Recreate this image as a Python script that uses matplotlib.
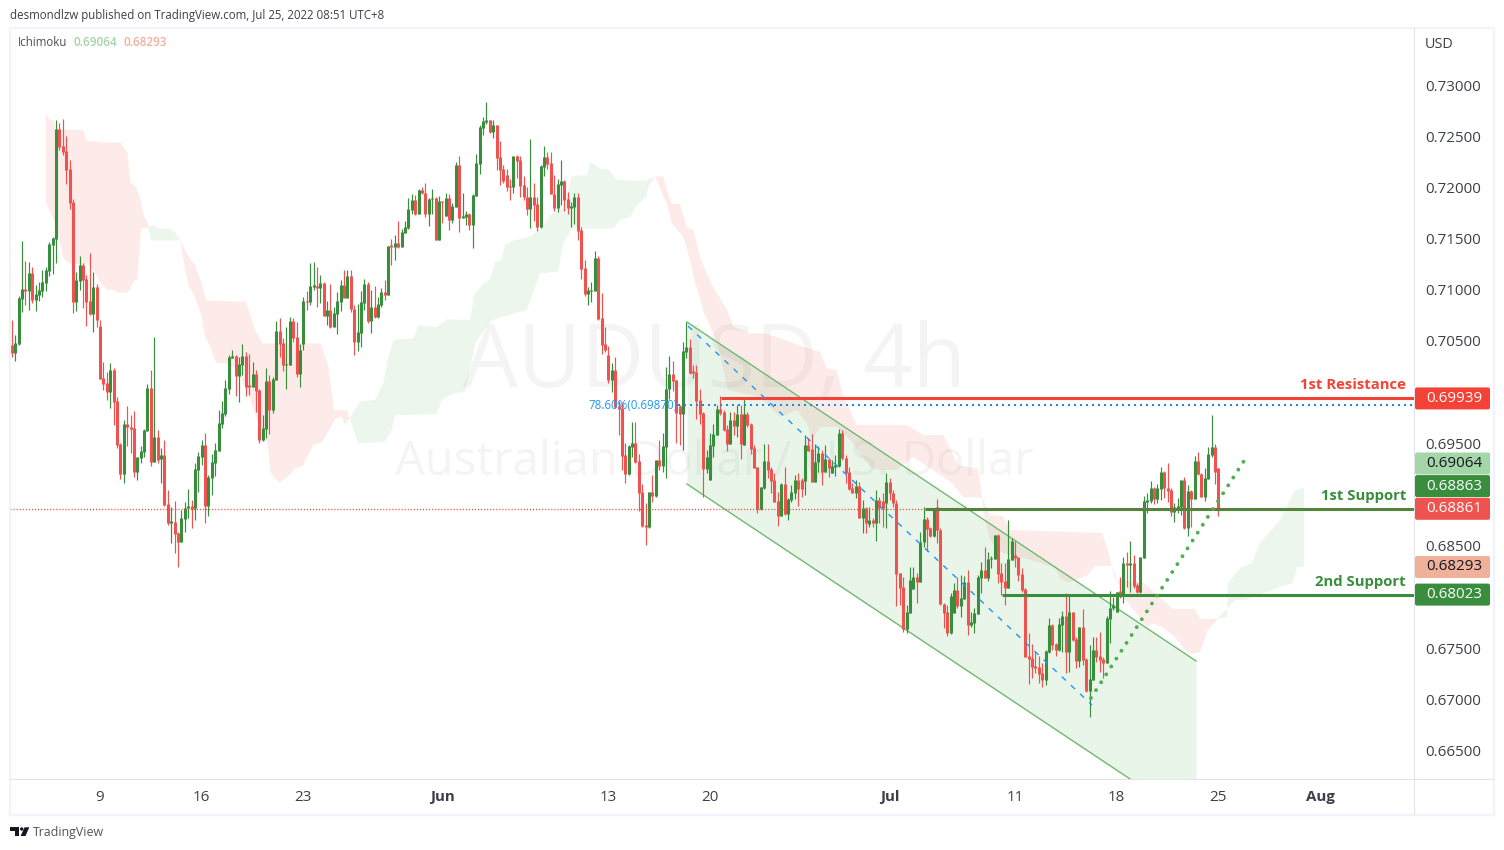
import numpy as np
import matplotlib
matplotlib.use("Agg")
import matplotlib.pyplot as plt
from matplotlib.patches import Rectangle, Polygon, Circle, FancyBboxPatch
from matplotlib.transforms import IdentityTransform

plt.rcParams['font.family'] = ['Open Sans', 'DejaVu Sans']

# ---- candle data, in 1e-5 price units, first bar index = -26 (bar 0 = 9 May) ----
highs = [
70705,70559,70939,71476,71281,71271,71226,71047,71079,71193,
71226,71470,71512,72658,72626,72668,72502,72267,71883,71177,
71330,71258,71144,71356,71177,71057,70705,70295,70200,70282,
70236,69950,69501,69729,69865,69777,69816,69371,69475,69637,
70080,70217,70539,69631,69452,69533,69045,68882,68941,68638,
68850,68925,69051,68947,69305,69413,69533,69598,69191,69397,
69501,69826,69914,70119,70363,70412,70363,70347,70471,70396,
70373,70298,70217,70028,69777,70233,70168,70145,70698,70721,
70526,70633,70731,70721,70689,70471,70926,70988,71265,71271,
71226,71144,71079,70894,71057,70835,70982,71096,71193,71193,
71193,70851,70861,
70988,71102,71079,70998,71037,70933,71014,71096,71431,71493,
71535,71672,71590,71675,71893,71935,71926,71981,72007,72040,
71893,71984,71909,71916,71867,71948,71935,71844,72251,72307,
71948,71773,71747,71935,72326,72609,72691,72834,72658,72658,
72612,72453,72219,72176,72079,72310,72316,72307,72111,72007,
72473,72040,71903,72219,72404,72349,72346,72121,72079,72267,
72072,71958,71861,71942,71942,71616,71291,71031,71079,71376,
71333,70965,70633,70451,70282,70347,69917,69908,69501,69484,
69709,69706,69397,69100,68915,69025,69191,69338,69533,69598,
70249,70354,70308,70119,69875,
70493,70689,70520,70266,70266,70032,69810,69436,69599,69690,
69875,69963,69826,69680,69810,69810,69875,69875,69950,69810,
69696,69485,69273,69078,69491,69491,69273,69208,69029,69117,
69267,68964,69094,69192,69208,69159,69582,69550,69592,69491,
69475,69436,69485,69355,69338,69387,69641,69631,69387,69273,
69110,69143,69127,68948,68883,68883,68769,69045,68980,69013,
69208,69159,69045,68948,68232,68199,67922,68297,68297,68232,
68638,68883,68785,68687,68866,68957,68671,67939,67922,68036,
68140,68199,68215,68209,68264,67857,67890,68215,
68339,68485,68443,68401,68606,68612,68329,68329,68752,68573,
68547,68394,68280,68085,67646,67541,67466,67424,67353,67483,
67792,67737,67548,67792,67864,68036,68010,67857,67613,67711,
67880,67401,67532,67606,67606,67655,67418,67815,68062,68004,
68052,68199,68388,68440,68550,68410,68134,68394,68987,69013,
69133,69078,69101,69267,69234,69306,69061,68915,68964,69143,
69169,69094,69045,69377,69419,69208,69257,69468,69778,69494,
69257]
body_tops = [
70461,70477,70917,71004,71004,71167,71167,70959,70998,71076,
71193,71447,71506,72570,72570,72404,72355,72180,71857,71096,
71242,71242,71105,70894,71031,71031,70646,70139,70093,70217,
70217,69914,69494,69689,69689,69663,69650,69371,69426,69631,
70041,70041,69562,69562,69387,69387,68905,68733,68733,68628,
68768,68866,68889,68889,69250,69377,69484,69484,69175,69315,
69436,69696,69794,70041,70347,70353,70357,70275,70353,70357,
70060,70178,70178,70021,69647,70109,70109,70129,70598,70598,
70477,70275,70695,70695,70536,70412,70891,70891,71037,71037,
71037,71063,71063,70803,70803,70770,70891,71047,71047,71135,
71135,70816,70588,
70881,71057,71057,70829,70829,70861,70982,70978,71428,71437,
71454,71454,71561,71610,71786,71877,71877,71975,71975,71942,
71890,71896,71896,71867,71867,71896,71896,71818,72219,72219,
71721,71737,71740,71922,72235,72586,72645,72652,72655,72609,
72609,72293,72176,72121,72014,72307,72307,72267,72020,71909,
71906,71906,71835,72209,72297,72297,72238,71939,72033,72062,
72062,71883,71815,71903,71906,71584,71213,70995,70995,71310,
71310,70721,70471,70363,70217,70217,69865,69846,69387,69475,
69501,69501,69328,69025,68703,69022,69025,69338,69338,69471,
70028,70175,70175,70119,69865,
70402,70442,70442,70198,70198,69924,69800,69371,69485,69592,
69836,69836,69810,69641,69726,69726,69787,69787,69787,69787,
69690,69455,69270,69075,69328,69328,69250,69143,68938,69104,
69104,68954,69026,69143,69143,69143,69485,69485,69446,69315,
69403,69403,69348,69348,69280,69289,69599,69599,69361,69224,
69068,69084,69084,68866,68866,68752,68752,68948,68948,68941,
69123,69123,69019,68915,68232,68095,67854,68166,68199,68199,
68534,68762,68762,68674,68866,68876,68655,67932,67857,68010,
68069,68069,67991,68147,68150,67756,67847,68199,
68264,68264,68371,68381,68606,68606,68235,68157,68371,68550,
68410,68388,68225,68078,67424,67408,67326,67320,67255,67473,
67727,67727,67541,67737,67815,67815,67854,67854,67590,67704,
67704,67392,67196,67480,67483,67424,67392,67795,67890,67922,
68052,68059,68332,68332,68332,68332,68117,68391,68938,68947,
69061,69068,69061,69221,69221,69065,69045,68876,68889,69143,
69143,69035,69035,69328,69328,69201,69159,69397,69465,69465,
69257]
body_bottoms = [
70386,70386,70471,70913,70991,70991,70900,70900,70949,70991,
71070,71187,71437,71499,72398,72346,72170,71851,70884,70884,
71089,71096,70884,70764,70764,70705,70132,70080,70002,70002,
69908,69484,69201,69201,69657,69644,69224,69224,69361,69419,
69624,69322,69322,69338,69344,68899,68726,68726,68615,68541,
68541,68765,68866,68863,68866,69240,69371,68889,68889,69165,
69312,69429,69689,69787,70031,70337,70158,70158,70266,70054,
70054,70054,70015,69533,69533,69641,69826,69826,70119,70471,
70266,70266,70262,70526,70178,70178,70471,70881,70881,71031,
71021,71018,70744,70744,70640,70640,70767,70881,70920,70920,
70809,70490,70490,
70581,70868,70699,70699,70738,70738,70851,70952,70952,71421,
71421,71418,71421,71558,71603,71779,71740,71740,71942,71740,
71740,71883,71486,71486,71860,71721,71682,71682,71812,71701,
71701,71711,71636,71636,71916,72228,72583,72642,72541,72541,
72287,72170,72059,72004,72004,72004,72261,72014,71906,71786,
71786,71828,71610,71610,72202,72228,71935,71802,71799,72023,
71877,71802,71802,71808,71577,71206,70959,70959,70988,70988,
70712,70464,70412,70119,70119,69859,69839,69377,69201,69201,
69468,69318,69019,68693,68687,68687,68986,68986,69279,69279,
69468,70028,70109,69794,69787,
69787,70396,70191,70191,69914,69787,69254,69254,69143,69478,
69582,69794,69631,69491,69491,69674,69674,69491,69485,69680,
69449,69263,68860,68860,69065,69244,69130,68931,68791,68791,
68811,68811,68948,69019,69055,69055,69133,69426,69124,69124,
69315,69221,69221,69263,69211,69273,69280,69361,69208,69058,
69019,69013,68772,68772,68720,68713,68720,68720,68870,68866,
68922,69013,68915,68225,68092,67685,67685,67847,68082,68150,
68150,68534,68668,68599,68599,68655,67929,67847,67646,67646,
67847,67913,67913,67984,67727,67727,67743,67834,
68186,68186,68186,68368,68371,68228,68147,68088,68088,68362,
68384,68215,68069,67418,67392,67320,67310,67248,67190,67190,
67466,67532,67483,67483,67727,67466,67466,67580,67375,67375,
67385,67082,67082,67190,67411,67385,67352,67359,67789,67890,
67857,68033,68033,68316,68316,68108,68049,68049,68384,68931,
68941,68960,68954,69055,69061,69039,68834,68834,68873,68882,
68674,68674,68961,68961,69201,68980,68980,69156,69387,69224,
68861]
lows = [
70347,70308,70461,70786,70851,70803,70868,70796,70894,70933,
70991,71135,71154,71258,72365,72316,72033,71792,70777,70796,
70998,70819,70646,70754,70591,70640,70132,70022,69924,69849,
69680,69458,69152,69117,69475,69403,69175,69143,69312,69371,
69618,69283,69322,69312,69117,68892,68703,68524,68433,68296,
68541,68638,68768,68677,68752,69029,69289,68726,68791,68996,
69182,69429,69647,69768,69982,70337,69963,69908,70168,69963,
69973,70054,69810,69507,69527,69550,69592,69794,70119,70347,
70210,70034,70262,70493,70152,70054,70412,70803,70851,70998,
70835,70868,70744,70656,70624,70633,70568,70796,70917,70917,
70786,70363,70406,
70445,70803,70672,70581,70721,70725,70835,70900,70952,71242,
71291,71411,71421,71551,71597,71740,71727,71740,71932,71708,
71626,71740,71486,71486,71655,71721,71584,71649,71812,71568,
71698,71633,71584,71408,71916,72131,72512,72619,72528,72486,
72170,72023,72046,71968,71877,71948,72088,71909,71877,71730,
71600,71675,71577,71600,72111,72180,71935,71769,71760,71828,
71773,71740,71616,71642,71486,71102,70939,70851,70881,70988,
70705,70373,70396,70093,70005,69842,69582,69240,69117,69191,
69371,69305,68837,68687,68511,68674,68931,68980,69240,69224,
69159,69930,70012,69501,69484,
69435,70331,70178,70136,69735,69690,68980,69208,69143,69371,
69582,69778,69625,69426,69491,69579,69560,69348,69485,69664,
69397,69257,68824,68850,69055,69159,69013,68925,68694,68791,
68804,68752,68931,68954,68889,68980,68996,69426,69124,69124,
69224,69094,69218,69176,69208,69182,69273,69338,69117,69045,
69013,68970,68769,68629,68629,68687,68687,68551,68720,68687,
68671,68948,68883,67916,67922,67662,67646,67847,68075,67945,
68150,68492,68450,68590,68590,68525,67926,67694,67620,67639,
67841,67890,67808,67978,67629,67711,67652,67834,
68043,68186,68160,68280,68368,68140,68020,67925,68088,68362,
68297,68160,68052,67418,67151,67206,67255,67157,67118,67141,
67450,67483,67424,67476,67466,67261,67271,67574,67310,67320,
67336,67076,66825,67190,67369,67271,67206,67352,67554,67873,
67851,67987,67945,68101,68052,68085,68036,68043,68378,68824,
68915,68908,68915,68947,68964,68931,68791,68736,68817,68801,
68668,68599,68687,68954,69192,68974,68938,69149,69371,69104,
68791]
directions = ("RGGGRGRGGG GGGGRRRRRG GRRRGRRRRG RRRGRRRGGG GRGRGRRGRR GGGRGGGRGG GGGGGGRGGR RGRRGGRGGR RGGRRGGRGG RGRGRGGGRG RRG"
              "GGRGRGGRGR GRGGGGRGRR GGRGRGRGGR GGRGGGGGRG RRRRRGRRRR GRRGGRRRGG RRGGRRRGGG RRRRGRRRRG GRRRRGRGRG GGRRR"
              "GGRRRRRGGG GRRRGRGRGR RRRGGRRRRG RGGGRRGRRG GRGRGGGRRR RGRGRGRGRR GRRRRRGGGR GGRRGRRRRG GRGGRGGG"
              "GRGGGRRRGG RRRRRRRRRG GRRGGRGRRG RRGGRRRGGG GRGRGRRGGG GRGGRRRGGG RGRGRRGGGR R").replace(" ", "")

# ---- Ichimoku cloud edges: bar index, price in 1e-5 units ----
red1_top_x = [-15.9,-15,-13.6,-13.2,-4.9,-3.9,-0.5,0,6.1,8.1,9,10.6,12,13,14.1,14.3]
red1_top_y = [72717,72665,72652,72567,72560,72453,72446,72440,72440,72339,72046,72007,71877,71714,71665,71607]
red1_bot_x = [-15.9,-14.3,-13.3,-12,-10.8,-8.9,-3,0,2,4.1,5.1,8.4,10,11,12.1,14.3]
red1_bot_y = [71844,71730,71649,71502,71307,71258,71242,71079,70998,70998,70972,70972,71089,71096,71600,71607]
green1_top_x = [14.3,15.9,17.2,20.5,22.1,23.8]
green1_top_y = [71607,71636,71597,71597,71558,71480]
green1_bot_x = [14.3,15,23.8]
green1_bot_y = [71607,71480,71480]
red2_top_x = [23.8,25.6,28,30,31.3,43.1,45.7,48,65.1,67.4,69,73,73.6]
red2_top_y = [71480,71356,71242,71063,70894,70884,70607,70477,70477,70249,69826,69820,69745]
red2_bot_x = [23.8,25.1,26.3,28,30,31,32.5,34.2,36.9,40.3,44.1,46.7,49.2,50.2,51.6,53.1,55.9,57.5,59.8,62.9,65.4,67.9,69.6,71.3,72.3,73.6]
red2_bot_y = [71480,71193,71030,70933,70738,70542,70445,70288,70282,70233,69956,69696,69598,69224,69159,69117,69191,69257,69279,69484,69507,69647,69745,69761,69680,69745]
green2_top_x = [73.6,76.7,81.2,83.6,85.1,86.6,92.5,94,99.3,102.3,109.2,110.4,113.1,115.1,116.6,118.5,119.5,122.5,126.9,130.8,132.8,136.7,139.2,143.8,144.6,147.5,150,152.5,160.8,163.8]
green2_top_y = [69745,69908,69924,70087,70347,70510,70526,70656,70633,70712,70705,70949,71063,71102,71275,71291,71437,71486,71519,71616,71730,71795,72111,72121,72251,72186,72176,72072,72066,72105]
green2_bot_x = [73.6,76.2,84.1,86.1,87,99.3,100.8,104.3,107.7,110.7,115.1,116.1,118,123,125.9,128.4,129.8,135.2,136.7,139.2,151.5,153.4,156.4,158.4,161.3,161.8,163.8]
green2_bot_y = [69745,69501,69517,69631,69777,69784,69924,69989,70005,70477,70689,70705,70731,70777,70803,71031,71161,71177,71454,71600,71600,71681,71714,71828,71909,72007,72105]
red3_top_x = [163.8,166.2,167.2,168.7,171.1,173.1,175.1,177,180.6,185,186.9,191.8,195.7,200.6,207.5,212.4,214.4,217.4,219.3,223.3,238,243,248.8,253.2,259.1,260.3,262.6,266.4,268.5,295.7,297.4,299.5,307.8,310.4,316.6,323.1,324.6,329.6]
red3_top_y = [72105,72111,71975,71838,71838,71616,71584,71320,71047,70803,70640,70575,70575,70529,70444,70396,70233,70217,69956,69680,69680,69582,69582,69289,69250,68976,68801,68791,68654,68625,68459,68166,68146,68068,67883,67883,67785,67785]
red3_bot_x = [163.8,167.2,168.7,172.1,174.1,175.6,177,177.9,182.1,185.3,194.7,198.6,200.6,205.7,208.6,210.1,212.5,217.5,222.2,227.2,230.2,235.2,239.9,251.4,254.6,260.3,261.1,262.6,266.4,271.5,276.5,281.8,283.3,285.6,291.5,293.6,298.6,301.9,308.9,310.4,313.4,317.2,320.7,322.5,324.6,326.9,329.6]
red3_bot_y = [72105,71845,71649,71519,71291,71066,70920,70803,70480,70021,69953,69826,69758,69826,69699,69533,69660,69660,69504,69269,69240,69240,69367,69113,68976,68966,68752,68556,68430,68390,68342,68283,68185,68137,68215,68303,68303,68000,67707,67746,67707,67609,67463,67443,67463,67678,67775]
green3_top_x = [329.6,332.5,332.8,336.4,339.9,342.3,348.2,352.6,355.3]
green3_top_y = [67785,67805,68137,68283,68332,68527,68752,69045,69064]
green3_bot_x = [329.6,335,337.9,348.2,352,353.2,355.3]
green3_bot_y = [67785,67971,67971,68097,68137,68293,68293]

# ---- drawings ----
channel_x = [173.2, 323.4]
channel_upper = [0.70685, 0.67375]
channel_lower = [0.69103, 0.65793]
fib_leg_x = [173.5, 292.7]
fib_leg_y = [0.70646, 0.66945]
fib_level = 0.69870
trend_x = [292.4, 338.5]
trend_y = [0.67013, 0.69377]
resistance_1 = 0.69939
support_1 = 0.68863
support_2 = 0.68023
last_price = 0.68861
resistance_start = 183.3
support1_start = 243.4
support2_start = 266.2
fib_start = 170.5

price_ticks = [0.665,0.670,0.675,0.685,0.695,0.700,0.705,0.710,0.715,0.720,0.725,0.730]
date_ticks = [0,30,60,101,150,180,233,270,300,330,360]
date_labels = ['9','16','23','Jun','13','20','Jul','11','18','25','Aug']
bold_dates = {'Jun','Jul','Aug'}

# price labels on the scale: value, text, fill, text colour, stacking shift in px
scale_labels = [
    (0.69939, '0.69939', '#f44336', 'white', 0),
    (0.69064, '0.69064', '#a5d6a7', '#131722', 24.5),
    (0.68863, '0.68863', '#388e3c', 'white', 22.5),
    (0.68861, '0.68861', '#ef5350', 'white', 0),
    (0.68293, '0.68293', '#f0b19a', '#131722', 0),
    (0.68023, '0.68023', '#388e3c', 'white', 0),
]

UP, DOWN = '#388e3c', '#ef5350'
W, H = 1504, 850
S = 1e-5
fig = plt.figure(figsize=(W/100, H/100), dpi=100, facecolor='white')
L, R, T, B = 10, 1414, 28, 779
ax = fig.add_axes([L/W, 1-B/H, (R-L)/W, (B-T)/H])
ax.set_xlim(-26.56, 387.72)
ax.set_ylim(0.66222, 0.73557)
ax.set_facecolor('white')


def cloud(tx, ty, bx, by, col, alpha=0.10):
    xs = list(tx) + list(bx)[::-1]
    ys = [v*S for v in ty] + [v*S for v in by][::-1]
    ax.fill(xs, ys, color=col, alpha=alpha, lw=0, zorder=1)


RC, GC = '#f44336', '#4caf50'
cloud(red1_top_x, red1_top_y, red1_bot_x, red1_bot_y, RC)
cloud(green1_top_x, green1_top_y, green1_bot_x, green1_bot_y, GC)
cloud(red2_top_x, red2_top_y, red2_bot_x, red2_bot_y, RC)
cloud(green2_top_x, green2_top_y, green2_bot_x, green2_bot_y, GC)
cloud(red3_top_x, red3_top_y, red3_bot_x, red3_bot_y, RC)
cloud(green3_top_x, green3_top_y, green3_bot_x, green3_bot_y, GC)

# channel
ax.fill_between(channel_x, channel_lower, channel_upper, color='#4caf50', alpha=0.12, lw=0, zorder=2)
ax.plot(channel_x, channel_upper, color='#71b96f', lw=1.0, zorder=2.5)
ax.plot(channel_x, channel_lower, color='#71b96f', lw=1.0, zorder=2.5)

# candles
idx = np.arange(-26, -26 + len(highs))
is_up = np.array([d == 'G' for d in directions])
hi = np.array(highs)*S
lo = np.array(lows)*S
top = np.array(body_tops)*S
bot = np.array(body_bottoms)*S
colors = np.where(is_up, UP, DOWN)
opens = np.where(is_up, bot, top)
closes = np.where(is_up, top, bot)
body_lo = np.minimum(opens, closes)
body_hi = np.maximum(np.maximum(opens, closes), body_lo + 0.00012)
ax.vlines(idx, lo, hi, colors=colors, lw=0.85, zorder=3, snap=True, capstyle='butt')
ax.vlines(idx, body_lo, body_hi, colors=colors, lw=2.2, zorder=3.1, snap=True, capstyle='butt')

# level lines
ax.plot([resistance_start, 387.72], [resistance_1]*2, color='#f44336', lw=2.2, solid_capstyle='butt', zorder=4)
ax.plot([support1_start, 387.72], [support_1]*2, color='#388e3c', lw=2.2, solid_capstyle='butt', zorder=4)
ax.plot([support2_start, 387.72], [support_2]*2, color='#388e3c', lw=2.2, solid_capstyle='butt', zorder=4)
ax.plot([-26.56, 387.72], [last_price]*2, color='#f44336', lw=1.0, ls=(0, (0.75, 1.45)), zorder=4.2, snap=True)
ax.plot([fib_start, 387.72], [fib_level]*2, color='#2684e0', lw=1.44, ls=(0, (1, 2)), zorder=4, snap=True)
ax.plot(fib_leg_x, fib_leg_y, color='#2196f3', lw=1.0, ls=(0, (4, 5)), zorder=4)
ax.plot(trend_x, trend_y, color='#4caf50', lw=2.8, ls=(0, (0.01, 2.4)), dash_capstyle='round', zorder=4)

ax.text(fib_start, fib_level, '78.60%(0.69870)', color='#2196f3', fontsize=8.3, ha='right', va='center', zorder=4.5)


def level_text(val, s, col, dy):
    ax.annotate(s, xy=(1, val), xycoords=ax.get_yaxis_transform(), xytext=(-8*0.72, dy*0.72),
                textcoords='offset points', ha='right', va='center', color=col, fontsize=10.7,
                fontweight='bold', zorder=6)


level_text(resistance_1, '1st Resistance', '#f44336', 13)
level_text(support_1, '1st Support', '#388e3c', 13)
level_text(support_2, '2nd Support', '#388e3c', 13)

# watermarks
ax.text(0.5015, 0.552, 'AUDUSD, 4h', transform=ax.transAxes, ha='center', va='center',
        fontsize=62.5, color='#2a2e39', alpha=0.05, zorder=0.5)
ax.text(0.5015, 0.4215, 'Australian Dollar / U.S. Dollar', transform=ax.transAxes, ha='center', va='center',
        fontsize=34, color='#2a2e39', alpha=0.05, zorder=0.5)

# axes
for sp in ax.spines.values():
    sp.set_visible(False)
ax.yaxis.tick_right()
ax.set_yticks(price_ticks)
ax.set_yticklabels([f'{v:.5f}' for v in price_ticks], fontsize=10.9, color='#3d3f46')
ax.tick_params(axis='y', length=0, pad=8.4)
ax.set_xticks(date_ticks)
ax.set_xticklabels(date_labels, fontsize=10.9, color='#3d3f46')
for lab, txt in zip(ax.get_xticklabels(), date_labels):
    if txt in bold_dates:
        lab.set_fontweight('bold')
ax.tick_params(axis='x', length=0, pad=8.0)


# figure-level helpers in top-left pixel coordinates
def Y(y):
    return H - y


def ftext(x, y, s, **kw):
    kw.setdefault('va', 'center')
    return fig.text(x/W, 1 - y/H, s, **kw)


def rect(x0, y0, x1, y1, col, lw=0, fill=True, z=-1):
    p = Rectangle((x0, Y(y1)), x1-x0, y1-y0, transform=IdentityTransform(), facecolor=col if fill else 'none',
                  edgecolor=col, linewidth=lw, zorder=z)
    fig.add_artist(p)


# frame
rect(10, 27.5, 1494, 815, '#f0f3fa', lw=1.6, fill=False, z=7)
rect(1414, 28, 1415, 815, '#e0e3eb', z=7)
rect(10, 779, 1494, 780, '#e0e3eb', z=7)

# scale labels
for val, txt, fc, tc, shift in scale_labels:
    yc = H - ax.transData.transform((0, val))[1] - shift
    box = FancyBboxPatch((1415, Y(yc+11)), 75, 22, boxstyle='round,pad=0,rounding_size=2',
                         transform=IdentityTransform(), facecolor=fc, edgecolor='none', zorder=8)
    fig.add_artist(box)
    ftext(1426, yc, txt, color=tc, fontsize=10.9, ha='left', zorder=9)

ftext(1425, 47.5, 'USD', color='#3d3f46', fontsize=10.4, ha='left', va='baseline')
ftext(10, 15, 'desmondlzw published on TradingView.com, Jul 25, 2022 08:51 UTC+8', color='#3d3f46',
      fontsize=8.3, ha='left')
ftext(18, 46.5, 'Ichimoku', color='#4a4e58', fontsize=8.3, ha='left', va='baseline', zorder=9)
ftext(73, 46.5, '0.69064', color='#a5d6a7', fontsize=8.5, ha='left', va='baseline', fontweight='semibold', zorder=9)
ftext(123, 46.5, '0.68293', color='#f0b19a', fontsize=8.5, ha='left', va='baseline', fontweight='semibold', zorder=9)
ftext(33, 832.5, 'TradingView', color='#50535e', fontsize=8.9, ha='left')

# TradingView logo
logo = '#131722'
fig.add_artist(Polygon([(10, Y(827.3)), (19.3, Y(827.3)), (19.3, Y(836)), (15, Y(836)), (15, Y(830.8)), (10, Y(830.8))],
                       closed=True, transform=IdentityTransform(), facecolor=logo, edgecolor='none', zorder=9))
fig.add_artist(Circle((21.7, Y(829)), 1.7, transform=IdentityTransform(), facecolor=logo, edgecolor='none', zorder=9))
fig.add_artist(Polygon([(24.6, Y(827.3)), (29.3, Y(827.3)), (25.5, Y(836)), (20.6, Y(836))],
                       closed=True, transform=IdentityTransform(), facecolor=logo, edgecolor='none', zorder=9))

fig.savefig('out.png', dpi=100, facecolor='white')
